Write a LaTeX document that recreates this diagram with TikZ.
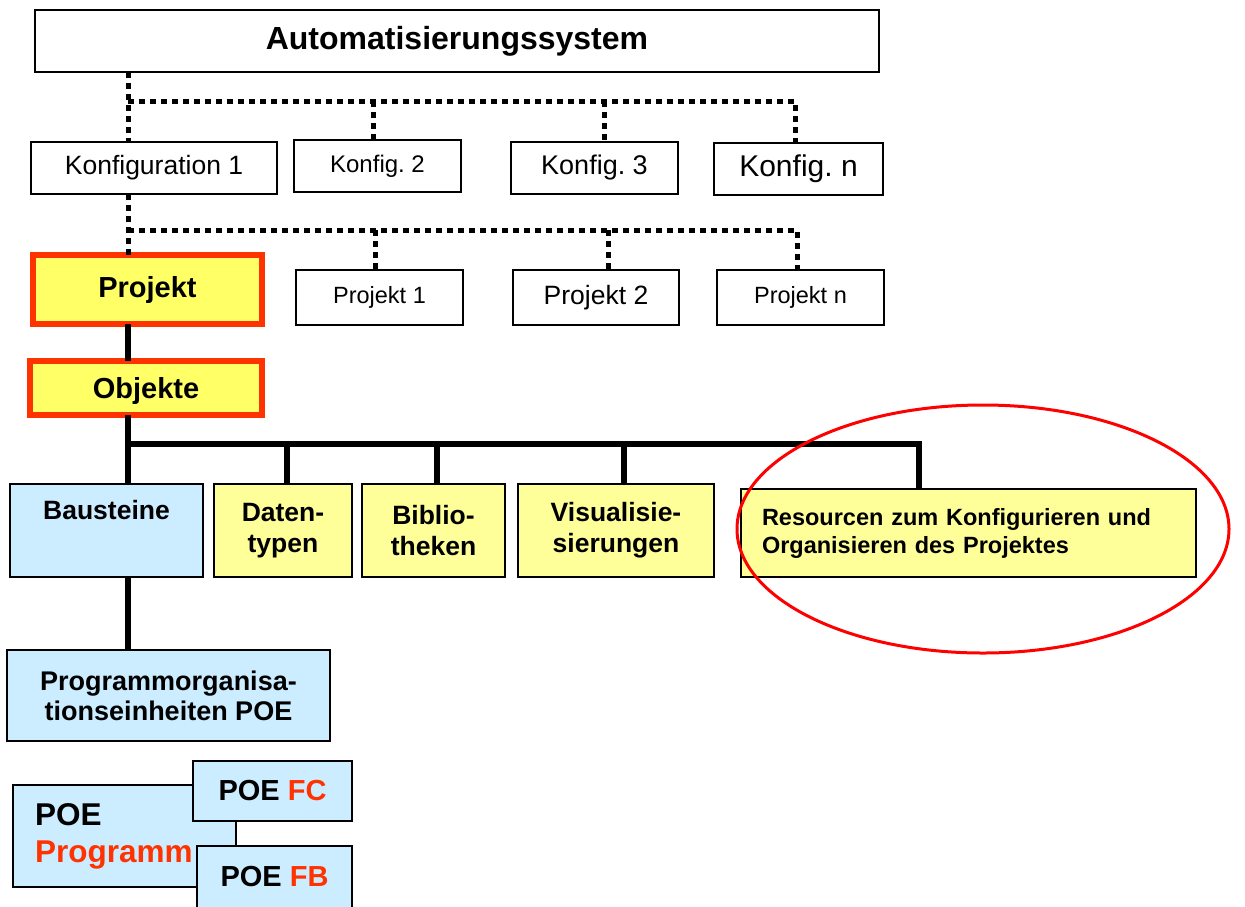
\documentclass[tikz,border=0pt]{standalone}
\usepackage{fontspec}
\setmainfont{Liberation Sans}
\frenchspacing
\usetikzlibrary{positioning}
\definecolor{gelb}{HTML}{FFFF99}
\definecolor{gelbstark}{HTML}{FFFF66}
\definecolor{blau}{HTML}{CCECFF}
\definecolor{orangerot}{HTML}{FF3300}
\newcommand{\schrift}[2]{\fontsize{#1}{#2}\selectfont}
\tikzset{
	x=1pt, y=-1pt, % Koordinaten in Bildpunkten, y zeigt nach unten
	kasten/.style={draw, line width=1.6pt, fill=white, inner sep=0pt, outer sep=0pt, align=center}, % Grundform aller Kaesten
	gross/.style 2 args={minimum width=#1pt, minimum height=#2pt}, % Breite und Hoehe eines Kastens
	markiert/.style={kasten, fill=gelbstark, draw=orangerot, line width=6pt}, % hervorgehobene Kaesten
	gelbkasten/.style={kasten, fill=gelb}, % Objektarten
	blaukasten/.style={kasten, fill=blau}, % Bausteine und POE
	punktiert/.style={line width=5pt, dash pattern=on 6pt off 5pt}, % gepunktete Verbindung
	linie/.style={line width=5.5pt}, % durchgezogene Verbindung
	oval/.style={draw=red, line width=3pt} % rote Markierung
}

\begin{document}
\begin{tikzpicture}
				\clip (0,0) rectangle (1245,906);
				\fill[white] (0,0) rectangle (1245,906);
				
				\node[kasten, gross={844}{62}, font=\schrift{32}{38}\bfseries] (as) at (457,41) {Automatisierungssystem};
				
				\node[kasten, gross={246}{52}, font=\schrift{26.5}{31}] (k1) at (154,168) {Konfiguration 1};
				\node[kasten, gross={167}{52}, font=\schrift{24}{28}] (k2) at (377.5,166) {Konfig. 2};
				\node[kasten, gross={167}{52}, font=\schrift{27}{32}] (k3) at (594.5,168) {Konfig. 3};
				\node[kasten, gross={169}{52}, font=\schrift{30}{35}] (kn) at (798.5,169) {Konfig. n};
				
				\node[markiert, gross={229}{69}, font=\schrift{29}{34}\bfseries] (pr) at (147.5,289.5) {Projekt};
				\node[kasten, gross={167}{55}, font=\schrift{23.5}{28}] (p1) at (379.5,297.5) {Projekt 1};
				\node[kasten, gross={166}{55}, font=\schrift{26.5}{31}] (p2) at (596,297.5) {Projekt 2};
				\node[kasten, gross={167}{55}, font=\schrift{23.5}{28}] (pn) at (800.5,297.5) {Projekt n};
				
				\node[markiert, gross={232}{54}, text height=26pt, text depth=6pt, font=\schrift{29}{34}\bfseries] (ob) at (146,388) {Objekte};
				
				\node[blaukasten, gross={193}{93}, font=\schrift{26.5}{31}\bfseries] (bs) at (106.5,530.5) {Bausteine\\\strut};
				\node[gelbkasten, gross={138}{93}, font=\schrift{26.5}{31}\bfseries] (dt) at (283,530.5) {Daten-\\typen};
				\node[gelbkasten, gross={143}{93}, font=\schrift{26.5}{31}\bfseries] (bi) at (433.5,530.5) {Biblio-\\theken};
				\node[gelbkasten, gross={196}{93}, font=\schrift{26.5}{31}\bfseries] (vi) at (616,530.5) {Visualisie-\\sierungen};
				\node[gelbkasten, gross={455}{88}, text width=413pt, align=left, font=\schrift{23.5}{28}\bfseries] (rs) at (968.5,533) {Resourcen zum Konfigurieren und\\Organisieren des Projektes};
				
				\node[blaukasten, gross={323}{91}, font=\schrift{27}{30}\bfseries] (poe) at (168.5,695.5) {Programmorganisa-\\tionseinheiten POE};
				\node[blaukasten, gross={223}{102}, text width=179pt, align=left, font=\schrift{31.5}{37}\bfseries] (prg) at (124.5,836) {POE\\\textcolor{orangerot}{Programm}};
				\node[blaukasten, gross={159}{60}, font=\schrift{29}{34}\bfseries] (fc) at (272.5,791) {POE \textcolor{orangerot}{FC}};
				\node[blaukasten, gross={155}{62}, font=\schrift{29}{34}\bfseries] (fb) at (274.5,877) {POE \textcolor{orangerot}{FB}};
				
				% Verteilerpunkte der Linien
				\coordinate (z1) at (128,101);
				\coordinate (z2) at (128,230);
				\coordinate (z3) at (128,444);
				
				\draw[punktiert] (as.south -| z1) -- (k1.north -| z1);
				\draw[punktiert] (z1) -| ([xshift=-3.5pt]kn.north);
				\draw[punktiert] ([xshift=-4.5pt]k2.north |- z1) -- ([xshift=-4.5pt]k2.north);
				\draw[punktiert] ([xshift=9.5pt]k3.north |- z1) -- ([xshift=9.5pt]k3.north);
				
				\draw[punktiert] (k1.south -| z2) -- (pr.north -| z2);
				\draw[punktiert] (z2) -| ([xshift=-3.5pt]pn.north);
				\draw[punktiert] ([xshift=-4.5pt]p1.north |- z2) -- ([xshift=-4.5pt]p1.north);
				\draw[punktiert] ([xshift=12pt]p2.north |- z2) -- ([xshift=12pt]p2.north);
				
				\draw[linie] (pr.south -| z2) -- (ob.north -| z2);
				\draw[linie] (ob.south -| z3) -- (bs.north -| z3);
				\draw[linie] (z3) -| ([xshift=-49.5pt]rs.north);
				\draw[linie] ([xshift=4pt]dt.north |- z3) -- ([xshift=4pt]dt.north);
				\draw[linie] ([xshift=3.5pt]bi.north |- z3) -- ([xshift=3.5pt]bi.north);
				\draw[linie] ([xshift=8pt]vi.north |- z3) -- ([xshift=8pt]vi.north);
				\draw[linie] (bs.south -| z3) -- (poe.north -| z3);
				
				\draw[oval] (983,529) ellipse [x radius=246pt, y radius=124pt];
			\end{tikzpicture}
\end{document}
